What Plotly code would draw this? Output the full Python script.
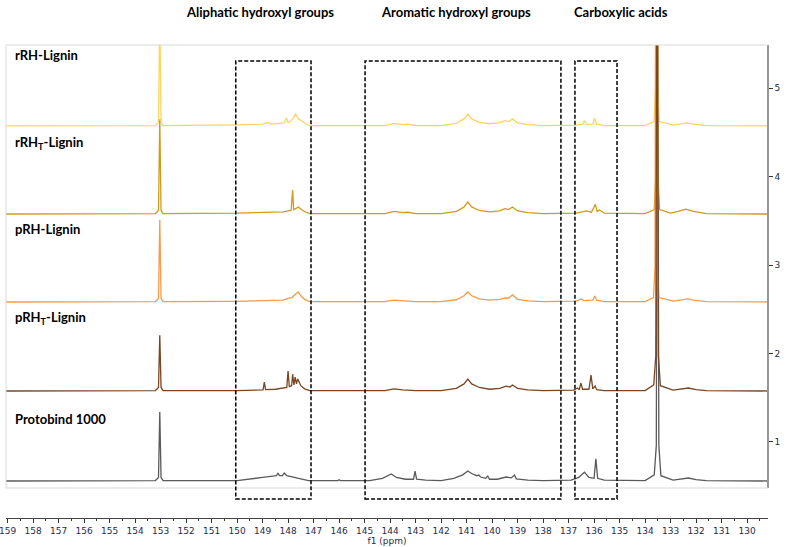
import plotly.graph_objects as go

# (ppm, intensity above baseline), one list per spectrum
rrh = [(159.06, 0), (153.2, 0.005), (153.08, 0.04), (153.03, 1.3), (152.98, 0.04), (152.9, 0.005),
       (150.0, 0.012), (149.0, 0.02), (148.8, 0.04), (148.65, 0.02), (148.15, 0.035), (148.06, 0.09),
       (148.0, 0.04), (147.9, 0.05), (147.8, 0.09), (147.7, 0.135), (147.6, 0.08), (147.45, 0.05),
       (147.3, 0.025), (147.15, 0.005), (145.0, 0.0), (144.2, 0.005), (143.85, 0.03), (143.5, 0.015),
       (143.3, 0.02), (143.0, 0.005), (142.0, 0.005), (141.4, 0.03), (141.1, 0.08), (140.95, 0.135),
       (140.8, 0.08), (140.5, 0.04), (140.1, 0.025), (139.7, 0.035), (139.5, 0.06), (139.35, 0.05),
       (139.2, 0.08), (139.0, 0.035), (138.6, 0.015), (138.0, 0.005), (136.7, 0.01), (136.45, 0.02),
       (136.38, 0.06), (136.3, 0.015), (136.05, 0.02), (135.98, 0.09), (135.9, 0.02), (135.6, 0.005),
       (134.0, 0.005), (133.65, 0.05), (133.59, 0.4), (133.55, 6.0), (133.5, 0.4), (133.44, 0.05),
       (132.9, 0.01), (132.6, 0.02), (132.35, 0.035), (132.1, 0.02), (131.6, 0.005), (129.18, 0)]

rrh_t = [(159.06, 0), (153.2, 0.005), (153.08, 0.04), (153.03, 1.07), (152.98, 0.04), (152.9, 0.005),
         (150.0, 0.01), (149.0, 0.015), (148.2, 0.025), (148.0, 0.035), (147.88, 0.04), (147.82, 0.27),
         (147.78, 0.05), (147.7, 0.06), (147.6, 0.08), (147.45, 0.045), (147.3, 0.02), (147.15, 0.005),
         (145.0, 0.0), (144.2, 0.005), (143.85, 0.03), (143.5, 0.015), (143.3, 0.02), (143.0, 0.005),
         (142.0, 0.005), (141.4, 0.03), (141.1, 0.08), (140.95, 0.135), (140.8, 0.08), (140.5, 0.04),
         (140.1, 0.025), (139.7, 0.035), (139.5, 0.06), (139.35, 0.05), (139.2, 0.08), (139.0, 0.035),
         (138.6, 0.015), (138.0, 0.005), (136.7, 0.01), (136.4, 0.025), (136.3, 0.035), (136.1, 0.02),
         (135.95, 0.11), (135.88, 0.03), (135.8, 0.045), (135.6, 0.01), (134.0, 0.005), (133.64, 0.05),
         (133.58, 0.4), (133.54, 6.0), (133.49, 0.4), (133.43, 0.05), (133.0, 0.01), (132.7, 0.03),
         (132.4, 0.056), (132.1, 0.03), (131.6, 0.005), (129.18, 0)]

prh = [(159.06, 0), (153.2, 0.005), (153.08, 0.04), (153.03, 0.93), (152.98, 0.04), (152.9, 0.005),
       (150.0, 0.008), (149.0, 0.012), (148.2, 0.02), (147.95, 0.045), (147.85, 0.05), (147.7, 0.09),
       (147.6, 0.113), (147.5, 0.07), (147.35, 0.03), (147.15, 0.005), (145.0, 0.0), (144.2, 0.005),
       (143.85, 0.022), (143.4, 0.012), (143.0, 0.005), (142.0, 0.005), (141.4, 0.025), (141.1, 0.07),
       (140.95, 0.113), (140.8, 0.07), (140.5, 0.035), (140.1, 0.02), (139.7, 0.03), (139.5, 0.045),
       (139.35, 0.045), (139.2, 0.08), (139.0, 0.03), (138.6, 0.012), (138.0, 0.005), (136.7, 0.01),
       (136.5, 0.034), (136.4, 0.015), (136.05, 0.02), (135.97, 0.068), (135.9, 0.02), (135.6, 0.005),
       (134.0, 0.005), (133.67, 0.05), (133.61, 0.4), (133.57, 6.0), (133.52, 0.4), (133.46, 0.05),
       (132.9, 0.01), (132.6, 0.02), (132.35, 0.034), (132.1, 0.02), (131.6, 0.005), (129.18, 0)]

prh_t = [(159.06, 0), (153.2, 0.005), (153.08, 0.04), (153.03, 0.63), (152.98, 0.04), (152.9, 0.005),
         (150.0, 0.005), (149.3, 0.01), (148.98, 0.012), (148.93, 0.10), (148.88, 0.015), (148.5, 0.02),
         (148.05, 0.04), (148.0, 0.226), (147.95, 0.05), (147.86, 0.06), (147.82, 0.19), (147.77, 0.07),
         (147.72, 0.158), (147.67, 0.08), (147.62, 0.136), (147.5, 0.06), (147.35, 0.025), (147.15, 0.005),
         (145.0, 0.0), (144.2, 0.005), (143.85, 0.025), (143.5, 0.012), (143.0, 0.005), (142.0, 0.005),
         (141.4, 0.03), (141.1, 0.08), (140.95, 0.136), (140.8, 0.08), (140.5, 0.04), (140.1, 0.02),
         (139.7, 0.03), (139.45, 0.056), (139.3, 0.045), (139.2, 0.068), (139.0, 0.03), (138.6, 0.012),
         (138.0, 0.005), (136.8, 0.01), (136.65, 0.034), (136.58, 0.015), (136.52, 0.09), (136.45, 0.02),
         (136.2, 0.02), (136.12, 0.18), (136.05, 0.025), (135.96, 0.056), (135.9, 0.015), (135.6, 0.005),
         (134.0, 0.005), (133.66, 0.07), (133.58, 0.4), (133.53, 6.0), (133.48, 0.4), (133.4, 0.06),
         (132.9, 0.01), (132.6, 0.02), (132.3, 0.034), (132.0, 0.015), (131.6, 0.005), (129.18, 0)]

protobind = [(159.06, 0), (153.2, 0.005), (153.08, 0.04), (153.03, 0.78), (152.98, 0.04), (152.9, 0.005),
             (150.0, 0.005), (149.5, 0.02), (149.0, 0.04), (148.6, 0.056), (148.45, 0.06), (148.4, 0.09),
             (148.33, 0.06), (148.22, 0.06), (148.15, 0.09), (148.05, 0.06), (147.8, 0.045), (147.5, 0.02),
             (147.2, 0.005), (146.05, 0.005), (146.0, 0.015), (145.95, 0.005), (144.8, 0.005), (144.3, 0.03),
             (144.05, 0.07), (143.95, 0.08), (143.75, 0.04), (143.4, 0.02), (143.08, 0.02), (143.02, 0.113),
             (142.96, 0.02), (142.6, 0.01), (142.0, 0.005), (141.5, 0.03), (141.15, 0.07), (140.95, 0.113),
             (140.8, 0.085), (140.6, 0.06), (140.52, 0.068), (140.45, 0.045), (140.25, 0.03), (140.17, 0.056),
             (140.1, 0.02), (139.8, 0.02), (139.45, 0.045), (139.25, 0.035), (139.12, 0.068), (139.05, 0.025),
             (138.6, 0.01), (138.0, 0.005), (136.9, 0.01), (136.6, 0.04), (136.38, 0.1), (136.2, 0.04),
             (136.0, 0.03), (135.93, 0.25), (135.86, 0.03), (135.6, 0.01), (134.0, 0.005), (133.64, 0.07),
             (133.56, 0.4), (133.51, 6.0), (133.46, 0.4), (133.38, 0.06), (132.9, 0.01), (132.6, 0.02),
             (132.3, 0.034), (132.0, 0.015), (131.6, 0.005), (129.18, 0)]

spectra = [rrh, rrh_t, prh, prh_t, protobind]
names = ['rRH-Lignin', 'rRH<sub>T</sub>-Lignin', 'pRH-Lignin', 'pRH<sub>T</sub>-Lignin', 'Protobind 1000']
colours = ['#FFD45E', '#D09A1A', '#F79A4A', '#7A4522', '#5A5A5A']
baselines = [4.571, 3.576, 2.582, 1.576, 0.559]
label_y = [5.373, 4.379, 3.407, 2.401, 1.26]

regions = ['Aliphatic hydroxyl groups', 'Aromatic hydroxyl groups', 'Carboxylic acids']
region_lo_hi = [(150.05, 147.1), (144.98, 137.3), (136.75, 135.1)]
region_text_x = [260, 456, 621]

fig = go.Figure()
# grey one first so the coloured peaks sit over it at 133.5 ppm
order = [4, 0, 1, 2, 3]
for i in order:
    spec = spectra[i]
    ppm = [p for p, _ in spec]
    inten = [baselines[i] + v for _, v in spec]
    fig.add_trace(go.Scatter(x=ppm, y=inten, mode='lines', name=names[i],
                             line=dict(color=colours[i], width=1.3), showlegend=False))

# light frame round the plotting area
fig.add_shape(type='rect', xref='x domain', yref='y domain', x0=0, x1=1, y0=0, y1=1,
              line=dict(color='#d9d9d9', width=1))

for name, y in zip(names, label_y):
    fig.add_annotation(x=(13 - 6) / 762, y=y, xref='paper', yref='y', text='<b>' + name + '</b>',
                       showarrow=False, xanchor='left', yanchor='middle',
                       font=dict(family='Lato', size=13, color='black'))

for (hi, lo), txt, tx in zip(region_lo_hi, regions, region_text_x):
    fig.add_shape(type='rect', xref='x', yref='paper', x0=hi, x1=lo,
                  y0=(518 - 499) / 473, y1=(518 - 61) / 473,
                  line=dict(color='black', width=1.5, dash='4px,2px'))
    fig.add_annotation(x=(tx - 6) / 762, y=1 + (45 - 12) / 473, xref='paper', yref='paper',
                       text='<b>' + txt + '</b>', showarrow=False, xanchor='center', yanchor='middle',
                       font=dict(family='Lato', size=13, color='black'))

tick_font = dict(family='DejaVu Sans', size=9, color='#2a2a48')

fig.update_layout(
    width=786, height=547,
    margin=dict(l=6, r=18, t=45, b=29),
    paper_bgcolor='white', plot_bgcolor='white',
    xaxis=dict(range=[159.06, 129.18], dtick=1, tick0=0, ticks='outside', ticklen=4,
               tickcolor='#333', tickfont=tick_font, showgrid=False, zeroline=False,
               showline=True, linecolor='#444', linewidth=1, anchor='free', position=0,
               ticklabeloverflow='allow',
               minor=dict(dtick=0.5, ticks='outside', ticklen=2, tickcolor='#333'),
               title=dict(text='f1 (ppm)', font=tick_font, standoff=2), automargin=False),
    yaxis=dict(range=[0.48, 5.486], domain=[(518 - 488) / 473, 1], side='right',
               tickvals=[1, 2, 3, 4, 5], ticks='outside', ticklen=4, tickcolor='#333',
               tickfont=tick_font, showgrid=False, zeroline=False, showline=True,
               linecolor='#555', linewidth=1.5, anchor='free', position=1, automargin=False),
)

# drop the browser's default body margin so the figure sits at the page corner
fig.write_html('out.html', config={'displayModeBar': False},
               post_script="document.body.style.margin='0px';")
